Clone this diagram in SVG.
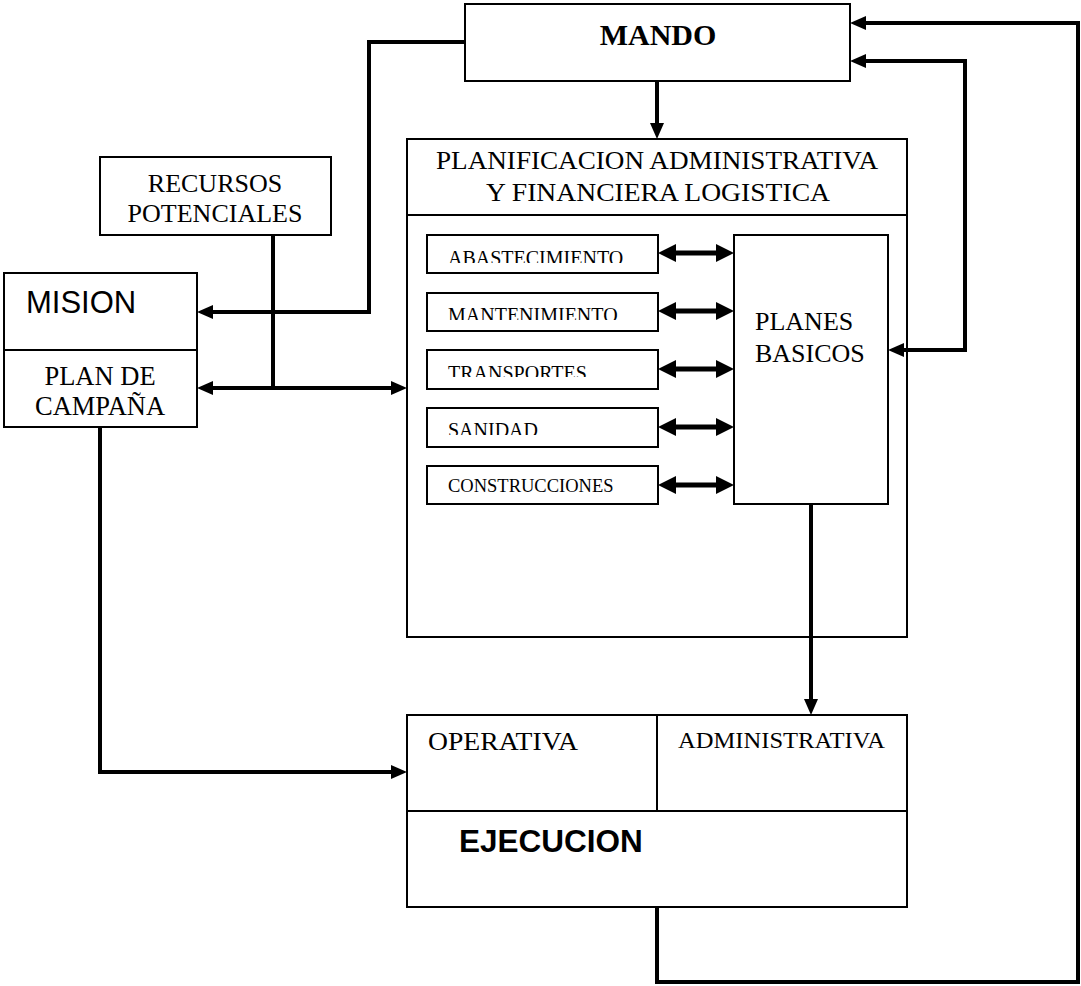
<svg xmlns="http://www.w3.org/2000/svg" width="1081" height="986" viewBox="0 0 1081 986">
<style>
.box{fill:#fff;stroke:#000;stroke-width:2}
.ln{fill:none;stroke:#000;stroke-width:2}
.serif{font-family:"Liberation Serif","Times New Roman",serif;fill:#000}
.sans{font-family:"Liberation Sans",Arial,sans-serif;fill:#000}
.con{fill:none;stroke:#000;stroke-width:4}
.dbl{fill:none;stroke:#000;stroke-width:5}
</style>
<defs>
<marker id="arr" markerUnits="userSpaceOnUse" markerWidth="16" markerHeight="14" viewBox="0 0 16 14" refX="0" refY="7" orient="auto-start-reverse">
<path d="M0,0 L16,7 L0,14 z" fill="#000"/>
</marker>
<marker id="arr2" markerUnits="userSpaceOnUse" markerWidth="18" markerHeight="18" viewBox="0 0 18 18" refX="0" refY="9" orient="auto-start-reverse">
<path d="M0,0 L18,9 L0,18 z" fill="#000"/>
</marker>
<clipPath id="c1"><rect x="427" y="235" width="231" height="28"/></clipPath>
<clipPath id="c2"><rect x="427" y="293" width="231" height="27"/></clipPath>
<clipPath id="c3"><rect x="427" y="350" width="231" height="27"/></clipPath>
<clipPath id="c4"><rect x="427" y="408" width="231" height="27"/></clipPath>
</defs>

<g id="mando">
<rect class="box" x="465" y="4" width="385" height="77"/>
<text class="serif" x="658" y="45" font-size="30" font-weight="bold" text-anchor="middle">MANDO</text>
</g>

<g id="recursos">
<rect class="box" x="100" y="157" width="231" height="78"/>
<text class="serif" x="215" y="192" font-size="26" text-anchor="middle">RECURSOS</text>
<text class="serif" x="215" y="222" font-size="26" text-anchor="middle">POTENCIALES</text>
</g>

<g id="mision">
<rect class="box" x="4" y="273" width="193" height="154"/>
<line class="ln" x1="4" y1="350" x2="197" y2="350"/>
<text class="sans" x="26" y="313" font-size="31">MISION</text>
<text class="serif" x="100" y="385" font-size="26.5" text-anchor="middle">PLAN DE</text>
<text class="serif" x="100" y="415" font-size="26.5" text-anchor="middle">CAMPAÑA</text>
</g>

<g id="planificacion">
<rect class="box" x="407" y="139" width="500" height="498"/>
<line class="ln" x1="407" y1="215" x2="907" y2="215"/>
<text class="serif" x="657" y="169" font-size="26" text-anchor="middle" textLength="442" lengthAdjust="spacingAndGlyphs">PLANIFICACION ADMINISTRATIVA</text>
<text class="serif" x="658" y="201" font-size="26" text-anchor="middle" textLength="344" lengthAdjust="spacingAndGlyphs">Y FINANCIERA LOGISTICA</text>
</g>

<g id="abastecimiento">
<rect class="box" x="427" y="235" width="231" height="38"/>
<text class="serif" x="448" y="265" font-size="20" clip-path="url(#c1)">ABASTECIMIENTO</text>
</g>
<g id="mantenimiento">
<rect class="box" x="427" y="293" width="231" height="38"/>
<text class="serif" x="448" y="322" font-size="20" clip-path="url(#c2)">MANTENIMIENTO</text>
</g>
<g id="transportes">
<rect class="box" x="427" y="350" width="231" height="39"/>
<text class="serif" x="448" y="380" font-size="20" clip-path="url(#c3)">TRANSPORTES</text>
</g>
<g id="sanidad">
<rect class="box" x="427" y="408" width="231" height="39"/>
<text class="serif" x="448" y="437" font-size="20" clip-path="url(#c4)">SANIDAD</text>
</g>
<g id="construcciones">
<rect class="box" x="427" y="466" width="231" height="38"/>
<text class="serif" x="448" y="492" font-size="18.5">CONSTRUCCIONES</text>
</g>

<g id="planes">
<rect class="box" x="734" y="235" width="154" height="269"/>
<text class="serif" x="755" y="330" font-size="26">PLANES</text>
<text class="serif" x="755" y="362" font-size="26">BASICOS</text>
</g>

<g id="ejecucion">
<rect class="box" x="407" y="715" width="500" height="192"/>
<line class="ln" x1="407" y1="811" x2="907" y2="811"/>
<line class="ln" x1="657" y1="715" x2="657" y2="811"/>
<text class="serif" x="428" y="750" font-size="26" textLength="150" lengthAdjust="spacingAndGlyphs">OPERATIVA</text>
<text class="serif" x="678" y="748" font-size="24" textLength="207" lengthAdjust="spacingAndGlyphs">ADMINISTRATIVA</text>
<text class="sans" x="459" y="852" font-size="31.5" font-weight="bold">EJECUCION</text>
</g>

<g id="connectors">
<line class="con" x1="657" y1="81" x2="657" y2="123" marker-end="url(#arr)"/>
<path class="con" d="M465,42 H369 V312 H213" marker-end="url(#arr)"/>
<path class="con" d="M273,235 V388"/>
<path class="con" d="M213,388 H391" marker-start="url(#arr)" marker-end="url(#arr)"/>
<path class="con" d="M100,427 V772 H391" marker-end="url(#arr)"/>
<path class="dbl" d="M676,253 H716" marker-start="url(#arr2)" marker-end="url(#arr2)"/>
<path class="dbl" d="M676,311 H716" marker-start="url(#arr2)" marker-end="url(#arr2)"/>
<path class="dbl" d="M676,369 H716" marker-start="url(#arr2)" marker-end="url(#arr2)"/>
<path class="dbl" d="M676,427 H716" marker-start="url(#arr2)" marker-end="url(#arr2)"/>
<path class="dbl" d="M676,485 H716" marker-start="url(#arr2)" marker-end="url(#arr2)"/>
<path class="con" d="M811,504 V699" marker-end="url(#arr)"/>
<path class="con" d="M904,350 H965 V61 H866" marker-start="url(#arr)" marker-end="url(#arr)"/>
<path class="con" d="M657,907 V982 H1078 V23 H866" marker-end="url(#arr)"/>
</g>
</svg>
